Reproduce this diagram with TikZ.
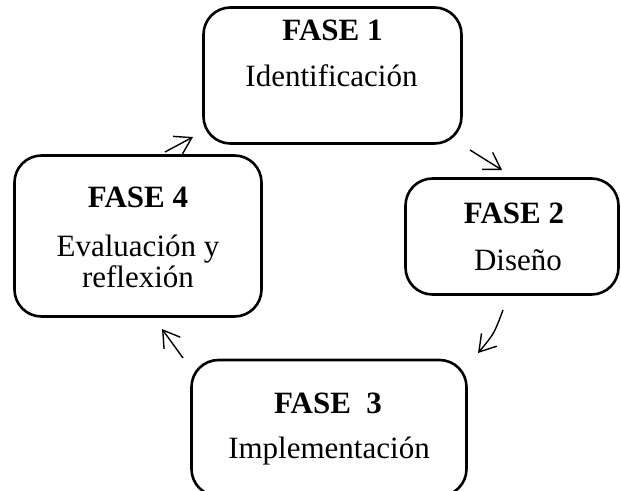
\documentclass[tikz,border=0pt]{standalone}
\usepackage{fontspec}
\setmainfont{Liberation Serif}
\usetikzlibrary{arrows.meta}
\begin{document}
\begin{tikzpicture}[x=1pt,y=-1pt,
  phase/.style={draw=black,line width=2.6pt,rounded corners=27pt,inner sep=0pt},
  title/.style={font=\fontsize{31}{32}\selectfont\bfseries,inner sep=0pt,anchor=base},
  body/.style={font=\fontsize{31}{32}\selectfont,inner sep=0pt,anchor=base},
  flow/.style={line width=1.4pt,-{Straight Barb[length=16pt,width=20pt,line width=1.4pt]}}]
\useasboundingbox (0,0) rectangle (621,490);
\node[phase,minimum width=258pt,minimum height=136pt] (f1) at (332.5,75.5) {};
\node[phase,minimum width=213pt,minimum height=116pt] (f2) at (512,236.5) {};
\node[phase,minimum width=247pt,minimum height=161pt] (f4) at (138,236) {};
\node[phase,minimum width=275pt,minimum height=136pt] (f3) at (329,428) {};
\node[title] (t1) at (332.5,40) {FASE 1};
\node[body] (b1) at (331.5,86) {Identificación};
\node[title] (t2) at (514,223) {FASE 2};
\node[body] (b2) at (518,270) {Diseño};
\node[title] (t4) at (138,207) {FASE 4};
\node[body] (b4a) at (138,256) {Evaluación y};
\node[body] (b4b) at (138,287) {reflexión};
\node[title] (t3) at (328,413) {FASE\ \ 3};
\node[body] (b3) at (329,458) {Implementación};
\coordinate (a1s) at (165,152); \coordinate (a1e) at (193,137);
\coordinate (a2s) at (470,150); \coordinate (a2e) at (502,170);
\coordinate (a3s) at (503,310); \coordinate (a3e) at (478,353);
\coordinate (a4s) at (183,358); \coordinate (a4e) at (162,329);
\draw[flow] (a1s) -- (a1e);
\draw[flow] (a2s) -- (a2e);
\draw[flow] (a3s) .. controls (494,334) .. (a3e);
\draw[flow] (a4s) -- (a4e);
\end{tikzpicture}
\end{document}
